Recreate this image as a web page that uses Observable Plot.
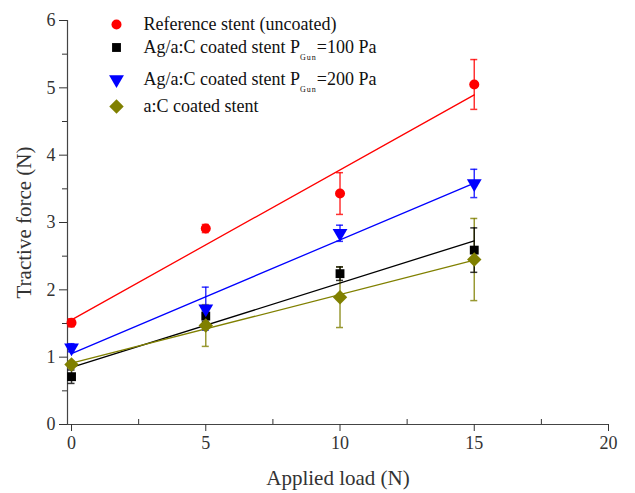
<!DOCTYPE html>
<html><head><meta charset="utf-8">
<script src="https://cdn.jsdelivr.net/npm/d3@7"></script>
<script src="https://cdn.jsdelivr.net/npm/@observablehq/plot@0.6"></script>
<style>body{margin:0;background:#fff;}</style>
</head><body><div id="chart"></div>
<script>
// ---- data ----
const xLoad = [0, 5, 10, 15];
const seriesNames = [
  "Reference stent (uncoated)",
  "Ag/a:C coated stent P_{Gun}=100 Pa",
  "Ag/a:C coated stent P_{Gun}=200 Pa",
  "a:C coated stent"
];
const refForce   = [1.51, 2.91, 3.43, 5.05];
const refErr     = [0.06, 0.06, 0.31, 0.37];
const ag100Force = [0.71, 1.61, 2.24, 2.59];
const ag100Err   = [0.10, 0.08, 0.10, 0.33];
const ag200Force = [1.14, 1.72, 2.84, 3.58];
const ag200Err   = [0.06, 0.32, 0.12, 0.21];
const acForce    = [0.89, 1.47, 1.89, 2.45];
const acErr      = [0.05, 0.31, 0.45, 0.61];
const xTicks = [0, 5, 10, 15, 20];
const xMinor = [2.5, 7.5, 12.5, 17.5];
const yTicks = [0, 1, 2, 3, 4, 5, 6];
const yMinor = [0.5, 1.5, 2.5, 3.5, 4.5, 5.5];
const xTitle = "Applied load (N)";
const yTitle = "Tractive force (N)";

// ---- styling ----
const colors = ["#ff0000", "#000000", "#0000ff", "#808000"];
const symbols = ["circle", "square", "triangle", "diamond2"];
const radii = [5, 5, 5.5, 6.5];
const rotations = [0, 0, 180, 0];
const legendDy = [4, 27, 59, 86];

const forces = [refForce, ag100Force, ag200Force, acForce];
const errs = [refErr, ag100Err, ag200Err, acErr];
const series = seriesNames.map((name, k) => ({
  name, color: colors[k], symbol: symbols[k], r: radii[k], rotate: rotations[k],
  rows: xLoad.map((x, i) => ({x, y: forces[k][i], lo: forces[k][i] - errs[k][i], hi: forces[k][i] + errs[k][i]}))
}));

const xMin = -0.15;
const errOrder = [3, 0, 2, 1];

const marks = [
  Plot.ruleY([0], {stroke: "#444", strokeWidth: 1.2}),
  Plot.ruleX([xMin], {stroke: "#444", strokeWidth: 1.2}),
  Plot.axisY({ticks: yTicks, tickSize: 8, tickPadding: 4, label: null, tickFormat: d => d, fontSize: 18}),
  Plot.axisY({ticks: yMinor, tickSize: 5, label: null, tickFormat: () => ""}),
  Plot.axisX({ticks: xTicks, tickSize: 7, tickPadding: 5, label: null, tickFormat: d => d, fontSize: 18}),
  Plot.axisX({ticks: xMinor, tickSize: 5, dy: -5, label: null, tickFormat: () => ""}),
  Plot.text([yTitle], {frameAnchor: "left", textAnchor: "middle", lineAnchor: "middle", rotate: -90, dx: -43, fontSize: 21, text: d => d}),
  Plot.text([xTitle], {frameAnchor: "bottom", textAnchor: "middle", lineAnchor: "middle", dy: 54, fontSize: 21, text: d => d})
];
for (const k of errOrder) {
  const s = series[k];
  marks.push(Plot.ruleX(s.rows, {x: "x", y1: "lo", y2: "hi", stroke: s.color, strokeWidth: 1.5, strokeOpacity: 0.8}));
  marks.push(Plot.ruleY(s.rows, {y: "hi", x1: "x", x2: "x", insetLeft: -3.5, insetRight: -3.5, stroke: s.color, strokeWidth: 1.5, strokeOpacity: 0.8}));
  marks.push(Plot.ruleY(s.rows, {y: "lo", x1: "x", x2: "x", insetLeft: -3.5, insetRight: -3.5, stroke: s.color, strokeWidth: 1.5, strokeOpacity: 0.8}));
}
for (const s of series) {
  marks.push(Plot.linearRegressionY(s.rows, {x: "x", y: "y", stroke: s.color, strokeWidth: 1.3, ci: 0}));
}
for (const s of series) {
  marks.push(Plot.dot(s.rows, {x: "x", y: "y", symbol: s.symbol, r: s.r, rotate: s.rotate, fill: s.color, stroke: "none"}));
}
series.forEach((s, k) => {
  marks.push(Plot.dot([s], {frameAnchor: "top-left", dx: 49, dy: legendDy[k], symbol: s.symbol, r: s.r, rotate: s.rotate, fill: s.color, stroke: "none"}));
  marks.push(Plot.text([s.name], {frameAnchor: "top-left", dx: 76, dy: legendDy[k], textAnchor: "start", lineAnchor: "middle", fontSize: 18, text: d => d, fill: "#111"}));
});

const chart = Plot.plot({
  width: 635, height: 493,
  marginLeft: 67, marginRight: 27, marginTop: 20, marginBottom: 69,
  x: {domain: [xMin, 20], axis: null},
  y: {domain: [0, 6], axis: null},
  style: {fontFamily: "'Liberation Serif', 'Times New Roman', serif", color: "#333", background: "#fff"},
  marks
});

// subscripts in legend labels
d3.select(chart).selectAll("text").each(function() {
  const t = this.textContent;
  const m = t.match(/^(.*)_\{(.*)\}(.*)$/);
  if (!m) return;
  const sel = d3.select(this);
  sel.text(null);
  sel.append("tspan").text(m[1]);
  sel.append("tspan").attr("dy", 7).attr("font-size", 8).attr("letter-spacing", 1).text(m[2]);
  sel.append("tspan").attr("dy", -7).text(m[3]);
});

document.getElementById("chart").appendChild(chart);
</script>
</body></html>
